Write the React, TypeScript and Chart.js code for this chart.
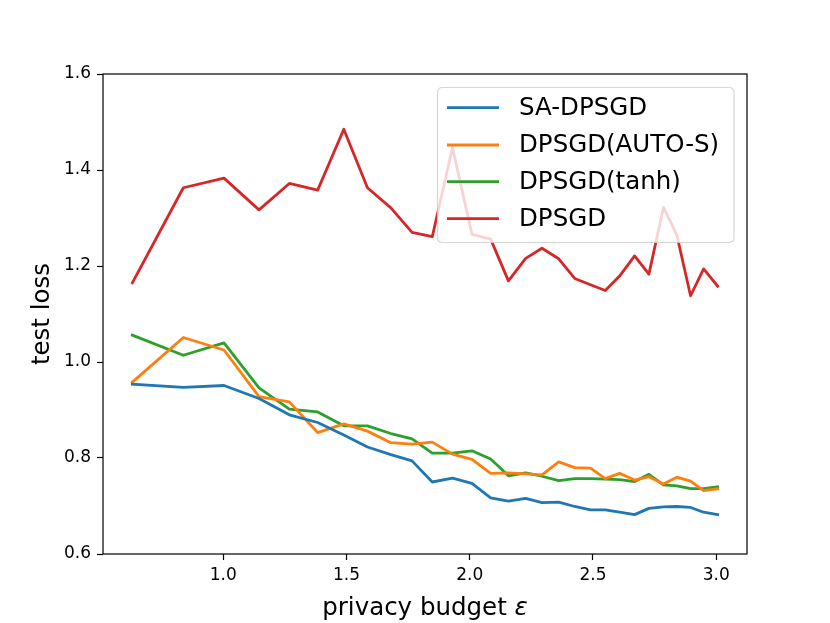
import React, { useEffect, useRef } from "react";
import { Chart, registerables } from "chart.js";

Chart.register(...registerables);

const epsilons = [0.631, 0.838, 1.003, 1.145, 1.268, 1.383, 1.489, 1.585, 1.68, 1.766, 1.848, 1.93, 2.009, 2.085, 2.157, 2.227, 2.293, 2.361, 2.426, 2.49, 2.55, 2.608, 2.669, 2.727, 2.786, 2.84, 2.896, 2.949, 3.006];

const saDpsgd = [0.954, 0.947, 0.951, 0.924, 0.89, 0.874, 0.848, 0.823, 0.807, 0.794, 0.75, 0.758, 0.747, 0.717, 0.71, 0.716, 0.707, 0.708, 0.699, 0.692, 0.692, 0.687, 0.682, 0.695, 0.698, 0.699, 0.697, 0.687, 0.682];
const dpsgdAutoS = [0.958, 1.051, 1.025, 0.928, 0.917, 0.853, 0.871, 0.856, 0.832, 0.829, 0.833, 0.808, 0.797, 0.768, 0.769, 0.767, 0.765, 0.792, 0.78, 0.779, 0.757, 0.768, 0.754, 0.761, 0.746, 0.76, 0.752, 0.732, 0.736];
const dpsgdTanh = [1.056, 1.014, 1.04, 0.946, 0.902, 0.896, 0.867, 0.867, 0.851, 0.84, 0.81, 0.81, 0.815, 0.798, 0.763, 0.769, 0.762, 0.753, 0.757, 0.757, 0.756, 0.755, 0.751, 0.766, 0.744, 0.742, 0.736, 0.736, 0.74];
const dpsgd = [1.165, 1.363, 1.383, 1.317, 1.372, 1.358, 1.485, 1.363, 1.321, 1.27, 1.261, 1.447, 1.266, 1.256, 1.169, 1.216, 1.237, 1.215, 1.174, 1.161, 1.149, 1.179, 1.221, 1.183, 1.322, 1.265, 1.138, 1.194, 1.158];

const seriesNames = ["SA-DPSGD", "DPSGD(AUTO-S)", "DPSGD(tanh)", "DPSGD"];
const seriesColors = ["#1f77b4", "#ff7f0e", "#2ca02c", "#d62728"];
const seriesValues = [saDpsgd, dpsgdAutoS, dpsgdTanh, dpsgd];

const xTicks = [1.0, 1.5, 2.0, 2.5, 3.0];
const yTicks = [0.6, 0.8, 1.0, 1.2, 1.4, 1.6];

const xTitleText = "privacy budget ";
const xTitleSymbol = "ε";

const FONT = "'DejaVu Sans', sans-serif";

const framePlugin = {
  id: "frameAndLegend",
  afterDatasetsDraw(chart: any) {
    const { ctx, chartArea } = chart;
    const { left, right, top, bottom } = chartArea;
    ctx.save();
    // frame
    ctx.strokeStyle = "#000";
    ctx.lineWidth = 1.2;
    ctx.strokeRect(left, top, right - left, bottom - top);

    // x title with italic epsilon
    ctx.fillStyle = "#000";
    ctx.textBaseline = "alphabetic";
    ctx.textAlign = "left";
    ctx.font = `24.5px ${FONT}`;
    const w1 = ctx.measureText(xTitleText).width;
    ctx.font = `italic 24.5px ${FONT}`;
    const w2 = ctx.measureText(xTitleSymbol).width;
    const startX = (left + right) / 2 - (w1 + w2) / 2;
    ctx.font = `24.5px ${FONT}`;
    ctx.fillText(xTitleText, startX, 614.5);
    ctx.font = `italic 24.5px ${FONT}`;
    ctx.fillText(xTitleSymbol, startX + w1, 614.5);

    // legend
    const bx = 437.5, by = 87.5, bw = 296.5, bh = 155;
    const r = 5;
    ctx.beginPath();
    ctx.moveTo(bx + r, by);
    ctx.lineTo(bx + bw - r, by);
    ctx.quadraticCurveTo(bx + bw, by, bx + bw, by + r);
    ctx.lineTo(bx + bw, by + bh - r);
    ctx.quadraticCurveTo(bx + bw, by + bh, bx + bw - r, by + bh);
    ctx.lineTo(bx + r, by + bh);
    ctx.quadraticCurveTo(bx, by + bh, bx, by + bh - r);
    ctx.lineTo(bx, by + r);
    ctx.quadraticCurveTo(bx, by, bx + r, by);
    ctx.closePath();
    ctx.fillStyle = "rgba(255,255,255,0.8)";
    ctx.fill();
    ctx.strokeStyle = "rgba(204,204,204,0.8)";
    ctx.lineWidth = 1.2;
    ctx.stroke();

    ctx.font = `24.5px ${FONT}`;
    ctx.textBaseline = "middle";
    ctx.textAlign = "left";
    const rowYs = [107.7, 145, 181.7, 218.7];
    seriesNames.forEach((name, i) => {
      const y = rowYs[i];
      ctx.strokeStyle = seriesColors[i];
      ctx.lineWidth = 2.8;
      ctx.lineCap = "butt";
      ctx.beginPath();
      ctx.moveTo(447, y);
      ctx.lineTo(499, y);
      ctx.stroke();
      ctx.fillStyle = "#000";
      ctx.fillText(name, 519, y + 1);
    });
    ctx.restore();
  },
};

export default function App() {
  const canvasRef = useRef<HTMLCanvasElement | null>(null);

  useEffect(() => {
    document.body.style.margin = "0";
    const canvas = canvasRef.current;
    if (!canvas) return;
    const chart = new Chart(canvas, {
      type: "line",
      data: {
        datasets: seriesNames.map((name, i) => ({
          label: name,
          data: epsilons.map((x, j) => ({ x, y: seriesValues[i][j] })),
          borderColor: seriesColors[i],
          backgroundColor: seriesColors[i],
          borderWidth: 2.8,
          pointRadius: 0,
          tension: 0,
          borderJoinStyle: "round",
          borderCapStyle: "square",
          fill: false,
        })),
      },
      options: {
        animation: false,
        responsive: false,
        devicePixelRatio: 1,
        layout: { padding: { left: 0, top: 74, right: 83, bottom: 0 } },
        plugins: {
          legend: { display: false },
          tooltip: { enabled: false },
        },
        scales: {
          x: {
            type: "linear",
            min: 0.512,
            max: 3.125,
            afterBuildTicks: (scale: any) => {
              scale.ticks = xTicks.map((v) => ({ value: v }));
            },
            afterFit: (scale: any) => {
              scale.height = 69;
            },
            grid: {
              drawOnChartArea: false,
              drawTicks: true,
              tickLength: 6,
              tickWidth: 1.2,
              tickColor: "#000",
            },
            border: { display: false },
            ticks: {
              color: "#000",
              font: { family: FONT, size: 17 },
              padding: 5,
              maxRotation: 0,
              callback: (v: any) => Number(v).toFixed(1),
            },
            title: { display: false },
          },
          y: {
            type: "linear",
            min: 0.6,
            max: 1.6,
            afterBuildTicks: (scale: any) => {
              scale.ticks = yTicks.map((v) => ({ value: v }));
            },
            afterFit: (scale: any) => {
              scale.width = 103;
            },
            grid: {
              drawOnChartArea: false,
              drawTicks: true,
              tickLength: 6,
              tickWidth: 1.2,
              tickColor: "#000",
            },
            border: { display: false },
            ticks: {
              color: "#000",
              font: { family: FONT, size: 17 },
              padding: 6,
              callback: (v: any) => Number(v).toFixed(1),
            },
            title: {
              display: true,
              text: "test loss",
              color: "#000",
              font: { family: FONT, size: 24.5 },
              padding: { top: 28, bottom: 0 },
            },
          },
        },
      },
      plugins: [framePlugin],
    });
    return () => chart.destroy();
  }, []);

  return (
    <div style={{ width: 830, height: 623 }}>
      <canvas ref={canvasRef} width={830} height={623} style={{ display: "block", width: 830, height: 623 }} />
    </div>
  );
}
